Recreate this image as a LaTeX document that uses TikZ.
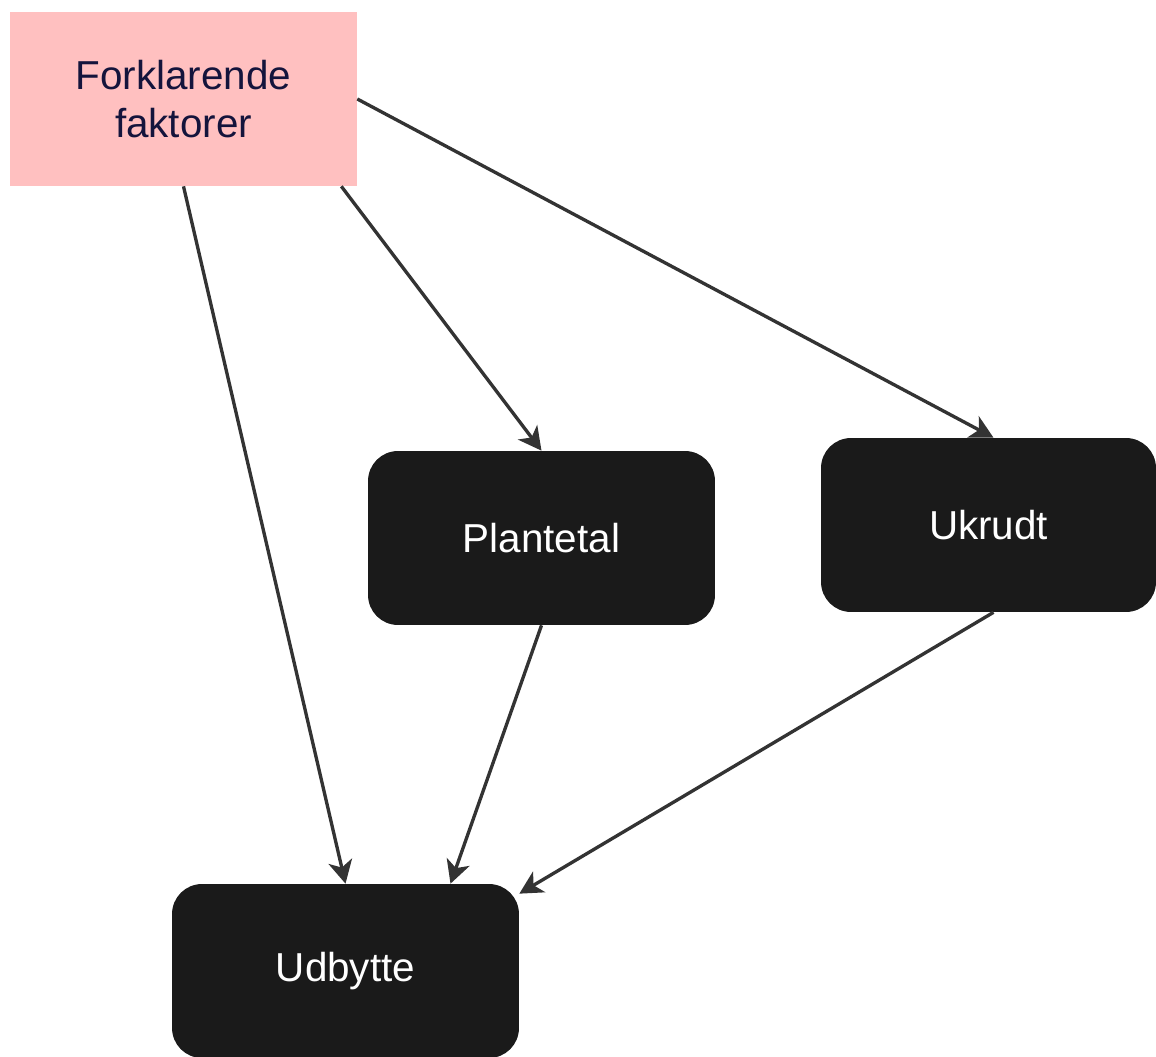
\documentclass[tikz,border=0pt]{standalone}
\usepackage{fontspec}
\setmainfont{Liberation Sans}
\usetikzlibrary{arrows.meta}

\definecolor{pinkbox}{RGB}{255,192,192}
\definecolor{navytext}{RGB}{20,20,60}
\definecolor{darkbox}{RGB}{26,26,26}
\definecolor{edgegray}{RGB}{51,51,51}

\tikzset{
    factorbox/.style={fill=pinkbox, text=navytext, minimum width=6.94cm, minimum height=3.48cm,
        align=center, font=\fontsize{23}{27}\selectfont},
    darkbox/.style={fill=darkbox, text=white, rounded corners=0.6cm, minimum width=6.94cm,
        minimum height=3.48cm, font=\fontsize{23}{27}\selectfont},
    link/.style={draw=edgegray, line width=1.9pt, -{Stealth[length=0.46cm,width=0.48cm,inset=0.13cm]}}
}

\begin{document}
\begin{tikzpicture}[x=0.02cm, y=-0.02cm]
    \useasboundingbox (0,0) rectangle (1156,1057);

    % Boxes
    \node[factorbox] (forkl) at (183.5,99) {Forklarende\\faktorer};
    \node[darkbox] (plantetal) at (541.5,538) {Plantetal};
    \node[darkbox, minimum width=6.7cm] (ukrudt) at (988.5,525) {Ukrudt};
    \node[darkbox] (udbytte) at (345.5,971) {Udbytte};

    % Arrows from the explanatory factors
    \draw[link] (forkl.south) -- (udbytte.north);
    \draw[link] ([xshift=-0.32cm]forkl.south east) -- (plantetal.north);
    \draw[link] (forkl.east) -- ([xshift=0.1cm]ukrudt.north);

    % Arrows into the yield
    \draw[link] (plantetal.south) -- ([xshift=2.1cm]udbytte.north);
    \draw[link] ([xshift=0.1cm]ukrudt.south) -- ([yshift=-0.2cm]udbytte.north east);
\end{tikzpicture}
\end{document}
